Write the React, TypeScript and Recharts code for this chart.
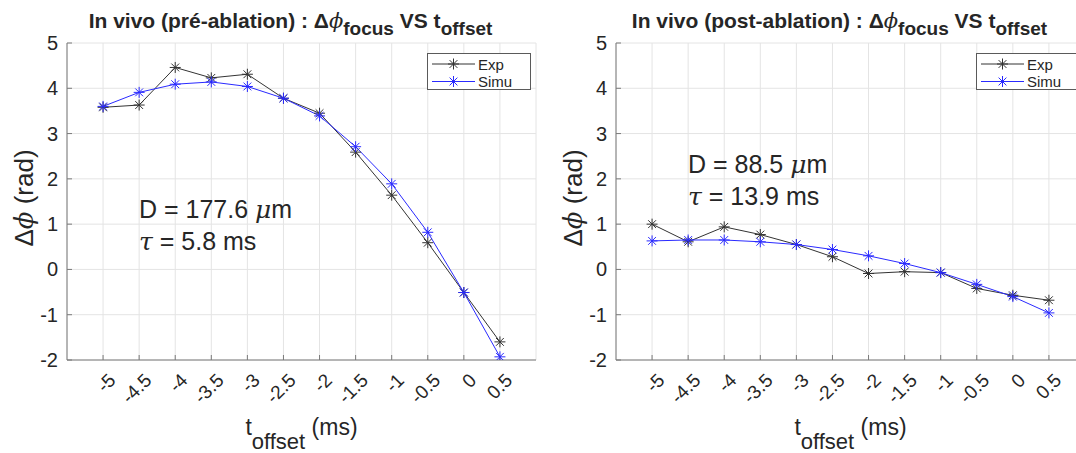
import React from 'react'
import { CartesianGrid, Line, LineChart, XAxis, YAxis } from 'recharts'

// t_offset (ms) and the measured / simulated phase shift (rad)
const T_OFFSET = [-5, -4.5, -4, -3.5, -3, -2.5, -2, -1.5, -1, -0.5, 0, 0.5]
const PRE_EXP = [3.58, 3.63, 4.46, 4.23, 4.31, 3.78, 3.45, 2.59, 1.64, 0.59, -0.51, -1.6]
const PRE_SIMU = [3.6, 3.91, 4.09, 4.14, 4.04, 3.78, 3.39, 2.71, 1.89, 0.82, -0.51, -1.93]
const POST_EXP = [1.0, 0.61, 0.94, 0.77, 0.55, 0.28, -0.09, -0.05, -0.07, -0.42, -0.57, -0.68]
const POST_SIMU = [0.63, 0.65, 0.65, 0.61, 0.55, 0.44, 0.3, 0.13, -0.07, -0.33, -0.6, -0.96]
const X_TICKS = [-5, -4.5, -4, -3.5, -3, -2.5, -2, -1.5, -1, -0.5, 0, 0.5]
const Y_TICKS = [-2, -1, 0, 1, 2, 3, 4, 5]
const X_DOMAIN: [number, number] = [-5.5, 1]
const Y_DOMAIN: [number, number] = [-2, 5]
const SERIES = ['Exp', 'Simu']

const FONT = '"Liberation Sans", Arial, Helvetica, sans-serif'
const TXT = '#262626'
const EXP_COLOR = '#333333'
const SIMU_COLOR = '#2a2aff'
const BOX = '#7a7a7a'
const GRID = '#e4e4e4'

const W = 560
const H = 453
const Y_AXIS_W = 67
const X_AXIS_H = 93
const TOP = 43
const RIGHT = 24
const PLOT_BOTTOM = H - X_AXIS_H
const PLOT_CX = (Y_AXIS_W + W - RIGHT) / 2

function starDot(color: string) {
  return (props: any) => {
    const { cx, cy, index } = props
    if (cx == null || cy == null) return <g key={index} />
    const r = 5.5
    const d = 3.9
    return (
      <g key={index} stroke={color} strokeWidth={1} fill="none">
        <line x1={cx - r} y1={cy} x2={cx + r} y2={cy} />
        <line x1={cx} y1={cy - r} x2={cx} y2={cy + r} />
        <line x1={cx - d} y1={cy - d} x2={cx + d} y2={cy + d} />
        <line x1={cx - d} y1={cy + d} x2={cx + d} y2={cy - d} />
      </g>
    )
  }
}

const fmt = (v: number) => `${v}`

function XTick(props: any) {
  const { payload } = props
  const x = payload.coordinate + 9
  const y = PLOT_BOTTOM + 17
  return (
    <text
      x={x}
      y={y}
      transform={`rotate(-45 ${x} ${y})`}
      textAnchor="end"
      dominantBaseline="central"
      fontSize={19}
      fontFamily={FONT}
      fill={TXT}
    >
      {fmt(payload.value)}
    </text>
  )
}

function YTick(props: any) {
  const { payload } = props
  return (
    <text
      x={Y_AXIS_W - 9}
      y={payload.coordinate}
      textAnchor="end"
      dominantBaseline="central"
      fontSize={20}
      fontFamily={FONT}
      fill={TXT}
    >
      {fmt(payload.value)}
    </text>
  )
}

function LegendBox({ x, y }: { x: number; y: number }) {
  const colors = [EXP_COLOR, SIMU_COLOR]
  return (
    <g transform={`translate(${x} ${y})`}>
      <rect x={0.5} y={0.5} width={103} height={36} fill="#fff" stroke="#5a5a5a" strokeWidth={1} />
      {SERIES.map((label, i) => {
        const ry = 11 + i * 17.5
        return (
          <g key={label}>
            <line x1={5} y1={ry} x2={48} y2={ry} stroke={colors[i]} strokeWidth={1} />
            {starDot(colors[i])({ cx: 26.5, cy: ry, index: label })}
            <text x={51} y={ry + 5.5} fontSize={15} fontFamily={FONT} fill={TXT}>
              {label}
            </text>
          </g>
        )
      })}
    </g>
  )
}

interface PanelProps {
  phase: string
  exp: number[]
  simu: number[]
  dText: string
  tauText: string
  noteY: number
  left: number
}

function Panel({ phase, exp, simu, dText, tauText, noteY, left }: PanelProps) {
  const data = T_OFFSET.map((t, i) => ({ t, exp: exp[i], simu: simu[i] }))
  return (
    <div style={{ position: 'absolute', left, top: 0, width: W, height: H }}>
      <LineChart width={W} height={H} data={data} margin={{ top: TOP, right: RIGHT, bottom: 0, left: 0 }}>
        <CartesianGrid stroke={GRID} strokeWidth={1} />
        <XAxis
          dataKey="t"
          type="number"
          domain={X_DOMAIN}
          ticks={X_TICKS}
          allowDataOverflow
          height={X_AXIS_H}
          interval={0}
          tick={<XTick />}
          tickSize={-5}
          tickLine={{ stroke: BOX }}
          axisLine={{ stroke: BOX }}
        />
        <XAxis
          xAxisId="top"
          orientation="top"
          type="number"
          domain={X_DOMAIN}
          ticks={X_TICKS}
          allowDataOverflow
          height={0}
          interval={0}
          tick={false}
          tickSize={-5}
          tickLine={{ stroke: BOX }}
          axisLine={{ stroke: BOX }}
        />
        <YAxis
          type="number"
          domain={Y_DOMAIN}
          ticks={Y_TICKS}
          allowDataOverflow
          width={Y_AXIS_W}
          interval={0}
          tick={<YTick />}
          tickSize={-5}
          tickLine={{ stroke: BOX }}
          axisLine={{ stroke: BOX }}
        />
        <YAxis
          yAxisId="right"
          orientation="right"
          type="number"
          domain={Y_DOMAIN}
          ticks={Y_TICKS}
          allowDataOverflow
          width={0}
          interval={0}
          tick={false}
          tickSize={-5}
          tickLine={{ stroke: BOX }}
          axisLine={{ stroke: BOX }}
        />
        <Line
          dataKey="exp"
          name="Exp"
          stroke={EXP_COLOR}
          strokeWidth={1}
          dot={starDot(EXP_COLOR)}
          activeDot={false}
          isAnimationActive={false}
        />
        <Line
          dataKey="simu"
          name="Simu"
          stroke={SIMU_COLOR}
          strokeWidth={1}
          dot={starDot(SIMU_COLOR)}
          activeDot={false}
          isAnimationActive={false}
        />
      </LineChart>
      <svg
        width={W}
        height={H}
        style={{ position: 'absolute', left: 0, top: 0, pointerEvents: 'none' }}
        fontFamily={FONT}
        fill={TXT}
      >
        <LegendBox x={427} y={53} />
        <text x={PLOT_CX - 11} y={28} textAnchor="middle" fontSize={21} fontWeight="bold">
          {`In vivo (${phase}) : Δ`}
          <tspan fontStyle="italic" fontWeight="normal" fontFamily="'DejaVu Serif', serif">ϕ</tspan>
          <tspan dy={7} fontSize={19}>focus</tspan>
          <tspan dy={-7}> VS t</tspan>
          <tspan dy={7} fontSize={19}>offset</tspan>
        </text>
        <text
          x={33}
          y={198}
          textAnchor="middle"
          fontSize={26}
          transform="rotate(-90 33 198)"
        >
          Δ<tspan fontStyle="italic" fontFamily="'DejaVu Serif', serif">ϕ</tspan> (rad)
        </text>
        <text x={PLOT_CX} y={435} textAnchor="middle" fontSize={23}>
          t<tspan dy={14} fontSize={22}>offset</tspan>
          <tspan dy={-14}> (ms)</tspan>
        </text>
        <text x={139} y={noteY} fontSize={25}>
          {`D = ${dText} `}
          <tspan fontStyle="italic" fontFamily="'DejaVu Serif', serif">μ</tspan>m
        </text>
        <text x={139} y={noteY + 32} fontSize={25}>
          <tspan fontStyle="italic" fontFamily="'DejaVu Serif', serif">τ</tspan>
          {` = ${tauText} ms`}
        </text>
      </svg>
    </div>
  )
}

export default function App() {
  return (
    <div
      style={{
        position: 'absolute',
        left: 0,
        top: 0,
        width: 1076,
        height: 453,
        overflow: 'hidden',
        background: '#fff',
      }}
    >
      <Panel phase="pré-ablation" exp={PRE_EXP} simu={PRE_SIMU} dText="177.6" tauText="5.8" noteY={218} left={0} />
      <Panel phase="post-ablation" exp={POST_EXP} simu={POST_SIMU} dText="88.5" tauText="13.9" noteY={173} left={549} />
    </div>
  )
}
